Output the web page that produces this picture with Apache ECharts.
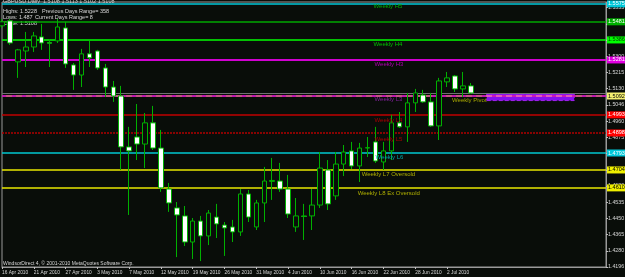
<!DOCTYPE html>
<html><head><meta charset="utf-8">
<script src="https://cdn.jsdelivr.net/npm/echarts@6/dist/echarts.min.js"></script>
<style>html,body{margin:0;padding:0;background:#090d09;}#c{width:625px;height:277px;}</style>
</head><body><div id="c"></div>
<script>
// ---- data ----
const dates = ['16 Apr 2010','18 Apr 2010','19 Apr 2010','20 Apr 2010','21 Apr 2010','22 Apr 2010','23 Apr 2010','26 Apr 2010','27 Apr 2010','28 Apr 2010',
'29 Apr 2010','30 Apr 2010','3 May 2010','4 May 2010','5 May 2010','6 May 2010','7 May 2010','9 May 2010','10 May 2010','11 May 2010',
'12 May 2010','13 May 2010','14 May 2010','18 May 2010','19 May 2010','20 May 2010','21 May 2010','25 May 2010','26 May 2010','27 May 2010',
'28 May 2010','30 May 2010','31 May 2010','1 Jun 2010','2 Jun 2010','3 Jun 2010','4 Jun 2010','7 Jun 2010','8 Jun 2010','9 Jun 2010',
'10 Jun 2010','11 Jun 2010','14 Jun 2010','15 Jun 2010','16 Jun 2010','17 Jun 2010','18 Jun 2010','21 Jun 2010','22 Jun 2010','23 Jun 2010',
'24 Jun 2010','25 Jun 2010','28 Jun 2010','29 Jun 2010','30 Jun 2010','1 Jul 2010','2 Jul 2010','5 Jul 2010','6 Jul 2010','7 Jul 2010'];
const opens = [1.5460,1.5486,1.5271,1.5328,1.5349,1.5402,1.5373,1.5381,1.5449,1.5255,
1.5202,1.5313,1.5328,1.5239,1.5139,1.5092,1.4825,1.4877,1.4840,1.4951,
1.4819,1.4604,1.4505,1.4463,1.4326,1.4436,1.4358,1.4457,1.4415,1.4405,
1.4379,1.4578,1.4405,1.4531,1.4644,1.4646,1.4604,1.4405,1.4463,1.4463,
1.4520,1.4704,1.4568,1.4735,1.4804,1.4725,1.4819,1.4851,1.4746,1.4804,
1.4951,1.4930,1.5056,1.5097,1.5061,1.4935,1.5166,1.5197,1.5129,1.5145];
const closes = [1.5481,1.5370,1.5334,1.5349,1.5407,1.5370,1.5368,1.5454,1.5260,1.5202,
1.5313,1.5292,1.5239,1.5139,1.5092,1.4825,1.4804,1.4840,1.4951,1.4819,
1.4610,1.4531,1.4468,1.4326,1.4436,1.4358,1.4478,1.4421,1.4400,1.4379,
1.4578,1.4457,1.4531,1.4646,1.4649,1.4604,1.4473,1.4463,1.4460,1.4520,
1.4714,1.4526,1.4735,1.4798,1.4725,1.4819,1.4821,1.4751,1.4804,1.4951,
1.4930,1.5056,1.5108,1.5061,1.4935,1.5171,1.5187,1.5129,1.5145,1.5108];
const lows = [1.5449,1.5360,1.5187,1.5244,1.5323,1.5334,1.5244,1.5370,1.5239,1.5124,
1.5139,1.5244,1.5229,1.5087,1.5061,1.4704,1.4468,1.4756,1.4714,1.4809,
1.4589,1.4484,1.4247,1.4305,1.4237,1.4226,1.4310,1.4347,1.4253,1.4326,
1.4358,1.4431,1.4389,1.4431,1.4547,1.4589,1.4452,1.4379,1.4337,1.4389,
1.4505,1.4494,1.4547,1.4672,1.4709,1.4641,1.4772,1.4741,1.4704,1.4756,
1.4924,1.4851,1.5008,1.5056,1.4930,1.4861,1.5139,1.5113,1.5087,1.5103];
const highs = [1.5496,1.5496,1.5339,1.5428,1.5428,1.5470,1.5391,1.5496,1.5481,1.5265,
1.5339,1.5381,1.5334,1.5260,1.5171,1.5145,1.4930,1.5050,1.5003,1.5040,
1.4914,1.4636,1.4536,1.4515,1.4452,1.4463,1.4494,1.4526,1.4431,1.4442,
1.4604,1.4599,1.4547,1.4720,1.4767,1.4741,1.4678,1.4557,1.4526,1.4604,
1.4798,1.4756,1.4798,1.4835,1.4851,1.4846,1.4877,1.4930,1.4851,1.4993,
1.5008,1.5108,1.5129,1.5124,1.5108,1.5187,1.5218,1.5202,1.5218,1.5160];
const yTickLabels = ['1.4196','1.4280','1.4365','1.4450','1.4535','1.4620','1.4705','1.4790','1.4875','1.4960','1.5046','1.5130','1.5215','1.5300','1.5385','1.5470','1.5555'];
// horizontal levels
const levelNames  = ['Weekly H5','Weekly H5b','Weekly H4','Weekly H3','Price','Weekly Pivot','Weekly L3','Weekly L4','Weekly L5','Weekly L6','Weekly L7 Oversold','Weekly L8 Ex Oversold'];
const levelValues = [1.5575,1.5481,1.5386,1.5281,1.5108,1.5092,1.5094,1.4993,1.4898,1.4793,1.4704,1.4610];
const levelTexts  = ['Weekly H5','','Weekly H4','Weekly H3','','Weekly Pivot','Weekly L3','Weekly L4','Weekly L5','Weekly L6','Weekly L7 Oversold','Weekly L8 Ex Oversold'];
const pivotZone = [1.5068,1.5103];
const headerLines = ['GBPUSD,Daily  1.5108 1.5113 1.5102 1.5108','Highs: 1.5228','Previous Days Range= 358','Lows: 1.487','Current Days Range= 8','Close: 1.5108'];
const copyright = 'WindsorDirect 4, \u00a9 2001-2010 MetaQuotes Software Corp.';

// ---- styles ----
const lineStyles = [
  {color:'#00c8d8',type:'solid',width:1.5, box:'#00c8d8', txt:'#ffffff', tc:'#00b000', tx:47, dx:-2, dy:-1},
  {color:'#00a800',type:'solid',width:1.5, box:'#00b000', txt:'#ffffff'},
  {color:'#00ff00',type:'solid',width:1.5, box:'#00ff00', txt:'#004000', tc:'#00c000', tx:47, dx:-2, dy:1},
  {color:'#d000d0',type:'solid',width:2, box:'#e000e0', txt:'#ffffff', tc:'#b000b0', tx:47, dx:-1, dy:1},
  {color:'#707070',type:'solid',width:1, box:null},
  {color:'#ff70a8',type:'solid',width:1.5, box:'#f4f070', txt:'#000000', tc:'#a8a800', tx:57, dx:-3, dy:1},
  {color:'#c000c0',type:[4,6],width:1.5, box:null, tc:'#80209a', tx:47, dx:-1, dy:1},
  {color:'#c00000',type:'solid',width:1.5, box:'#ff0000', txt:'#ffffff', tc:'#a80000', tx:47, dx:-1, dy:2},
  {color:'#b00000',type:[2,1],width:1.5, box:'#ff0000', txt:'#ffffff', tc:'#a80000', tx:47, dx:-1, dy:3},
  {color:'#00c8d0',type:'solid',width:1.5, box:'#00c8d8', txt:'#ffffff', tc:'#00a8a8', tx:47, dx:0, dy:1},
  {color:'#e8e800',type:'solid',width:1.5, box:'#f0f000', txt:'#000000', tc:'#b0b000', tx:45, dx:2, dy:1},
  {color:'#e8e800',type:'solid',width:1.5, box:'#f0f000', txt:'#000000', tc:'#b0b000', tx:45, dx:-2, dy:2}
];
const FONT = 'Liberation Sans, Arial, sans-serif';
const Y_MIN = 1.4195, Y_MAX = 1.5585, Y_INT = 0.0085;
const N_SLOTS = 77;

const cats = dates.slice();
for (let i = dates.length; i < N_SLOTS; i++) cats.push('pad' + i);
const candles = dates.map((d, i) => [opens[i], closes[i], lows[i], highs[i]]);

const markLineData = levelValues.map((v, i) => {
  const s = lineStyles[i];
  return {
    name: levelNames[i], yAxis: v,
    lineStyle: {color: s.color, type: s.type, width: s.width, opacity: 1},
    label: s.box ? {show: true, position: 'end', distance: 1, formatter: () => v.toFixed(4),
      backgroundColor: s.box, color: s.txt, fontSize: 5.5, fontFamily: FONT, padding: [1, 1, 0, 1]} : {show: false}
  };
});
const markPointData = [];
levelValues.forEach((v, i) => {
  if (!levelTexts[i]) return;
  const s = lineStyles[i];
  markPointData.push({
    name: levelTexts[i], coord: [s.tx, v], symbolSize: 0,
    label: {show: true, formatter: '{b}', position: [s.dx, s.dy], align: 'left', verticalAlign: 'top',
      color: s.tc, fontSize: 6, fontFamily: FONT}
  });
});

const chart = echarts.init(document.getElementById('c'), null, {renderer: 'canvas'});
chart.setOption({
  backgroundColor: '#090d09',
  animation: false,
  grid: {left: 2, right: 19, top: 2, bottom: 10, show: true, borderColor: '#9a9a9a', borderWidth: 1,
    containLabel: false, outerBoundsMode: 'none'},
  xAxis: {
    type: 'category', data: cats, boundaryGap: false,
    axisLine: {show: true, lineStyle: {color: '#9a9a9a', width: 1}},
    axisTick: {show: true, length: 2, interval: (i) => i % 4 === 0 && i < dates.length, lineStyle: {color: '#c0c0c0'}},
    axisLabel: {show: true, interval: (i) => i % 4 === 0 && i < dates.length, align: 'left', margin: 3,
      color: '#d8d8d8', fontSize: 4.8, fontFamily: FONT, hideOverlap: false},
    splitLine: {show: false}
  },
  yAxis: {
    type: 'value', position: 'right', scale: true, min: Y_MIN, max: Y_MAX, interval: Y_INT,
    axisLine: {show: true, lineStyle: {color: '#9a9a9a', width: 1}},
    axisTick: {show: true, length: 2, lineStyle: {color: '#c0c0c0'}},
    axisLabel: {show: true, margin: 2, color: '#d8d8d8', fontSize: 5.3, fontFamily: FONT,
      showMinLabel: true, showMaxLabel: false,
      formatter: (v) => { const k = (v - Y_MIN) / Y_INT; const r = Math.round(k);
        return Math.abs(k - r) < 0.02 && yTickLabels[r] ? yTickLabels[r] : ''; }},
    splitLine: {show: false}
  },
  series: [{
    type: 'candlestick', data: candles, barWidth: 5,
    itemStyle: {color: '#090d09', color0: '#ffffff', borderColor: '#00b000', borderColor0: '#00b000', borderWidth: 1},
    markLine: {silent: true, symbol: 'none', animation: false, precision: 4, data: markLineData, z: 1},
    markArea: {silent: true, precision: 4, itemStyle: {color: '#8410f0', opacity: 1, borderColor: '#a020f0', borderWidth: 1, borderType: 'dashed'},
      data: [[{xAxis: 61, yAxis: pivotZone[0]}, {xAxis: 72, yAxis: pivotZone[1]}]]},
    markPoint: {silent: true, symbol: 'rect', precision: 4, data: markPointData}
  }],
  graphic: [
    {type: 'text', left: 3, top: -2, silent: true, style: {text: headerLines[0], fill: '#d8d8d8', font: '5.5px ' + FONT}},
    {type: 'text', left: 3, top: 8, silent: true, style: {text: headerLines[1], fill: '#d8d8d8', font: '5.5px ' + FONT}},
    {type: 'text', left: 42, top: 8, silent: true, style: {text: headerLines[2], fill: '#d8d8d8', font: '5.5px ' + FONT}},
    {type: 'text', left: 3, top: 14, silent: true, style: {text: headerLines[3], fill: '#d8d8d8', font: '5.5px ' + FONT}},
    {type: 'text', left: 35, top: 14, silent: true, style: {text: headerLines[4], fill: '#d8d8d8', font: '5.5px ' + FONT}},
    {type: 'text', left: 3, top: 20, silent: true, style: {text: headerLines[5], fill: '#d8d8d8', font: '5.5px ' + FONT}},
    {type: 'text', left: 3, top: 261, silent: true, style: {text: copyright, fill: '#d8d8d8', font: '5px ' + FONT}}
  ]
});
</script></body></html>
